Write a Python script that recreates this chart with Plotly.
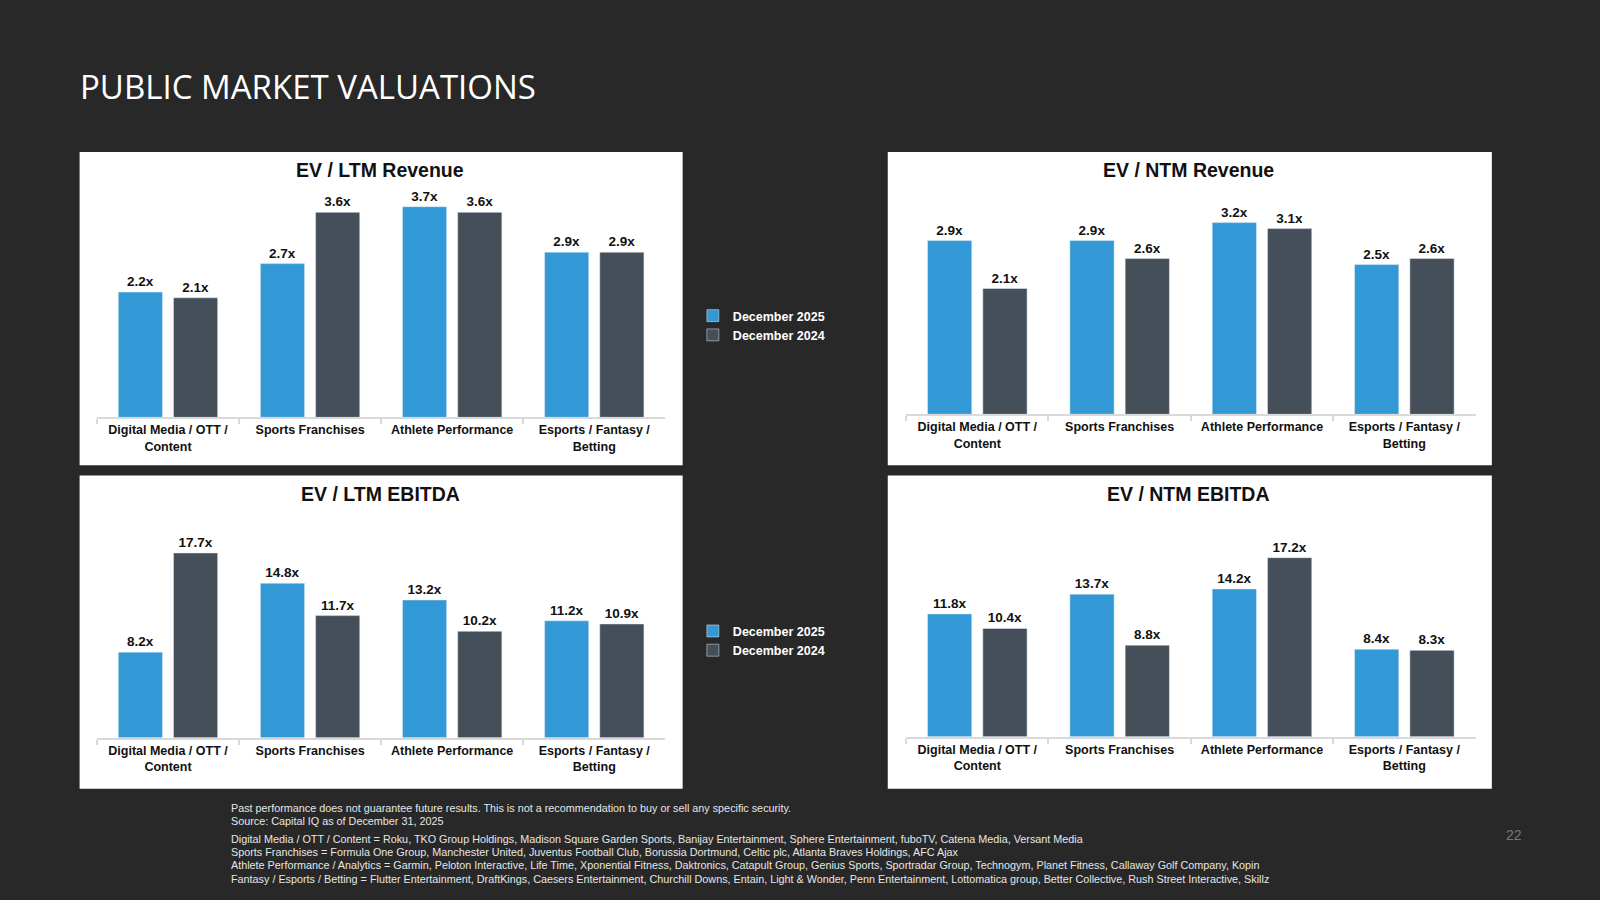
import plotly.graph_objects as go

# data
categories = ["Digital Media / OTT /<br>Content", "Sports Franchises",
              "Athlete Performance", "Esports / Fantasy /<br>Betting"]
series_names = ["December 2025", "December 2024"]

ltm_rev_2025 = [2.2, 2.7, 3.7, 2.9]
ltm_rev_2024 = [2.1, 3.6, 3.6, 2.9]
ntm_rev_2025 = [2.9, 2.9, 3.2, 2.5]
ntm_rev_2024 = [2.1, 2.6, 3.1, 2.6]
ltm_ebitda_2025 = [8.2, 14.8, 13.2, 11.2]
ltm_ebitda_2024 = [17.7, 11.7, 10.2, 10.9]
ntm_ebitda_2025 = [11.8, 13.7, 14.2, 8.4]
ntm_ebitda_2024 = [10.4, 8.8, 17.2, 8.3]

chart_titles = ["EV / LTM Revenue", "EV / NTM Revenue", "EV / LTM EBITDA", "EV / NTM EBITDA"]

footnotes = [
    "Past performance does not guarantee future results. This is not a recommendation to buy or sell any specific security.",
    "Source: Capital IQ as of December 31, 2025",
    "Digital Media / OTT / Content = Roku, TKO Group Holdings, Madison Square Garden Sports, Banijay Entertainment, Sphere Entertainment, fuboTV, Catena Media, Versant Media",
    "Sports Franchises = Formula One Group, Manchester United, Juventus Football Club, Borussia Dortmund, Celtic plc, Atlanta Braves Holdings, AFC Ajax",
    "Athlete Performance / Analytics = Garmin, Peloton Interactive, Life Time, Xponential Fitness, Daktronics, Catapult Group, Genius Sports, Sportradar Group, Technogym, Planet Fitness, Callaway Golf Company, Kopin",
    "Fantasy / Esports / Betting = Flutter Entertainment, DraftKings, Caesers Entertainment, Churchill Downs, Entain, Light & Wonder, Penn Entertainment, Lottomatica group, Better Collective, Rush Street Interactive, Skillz",
]

BLUE = "#3399d6"
GREY = "#454f59"
FONT = "Liberation Sans, Arial"
W, H = 1568.0, 882.0  # reference layout units


def px(x):
    return x / W


def py(y):
    return 1 - y / H


fig = go.Figure()

# panel layout: (box x0, x1, y0, y1), plot (x0, x1, top, base), px per unit
panels = [
    ((78, 669, 149, 456), (95, 652, 180, 409), 55.8, ltm_rev_2025, ltm_rev_2024),
    ((870, 1462, 149, 456), (888, 1446, 180, 406), 58.7, ntm_rev_2025, ntm_rev_2024),
    ((78, 669, 466, 773), (95, 652, 500, 723), 10.23, ltm_ebitda_2025, ltm_ebitda_2024),
    ((870, 1462, 466, 773), (888, 1446, 500, 722), 10.2, ntm_ebitda_2025, ntm_ebitda_2024),
]

for i, (box, plot, scale, v25, v24) in enumerate(panels):
    n = i + 1
    xa = "x" if n == 1 else f"x{n}"
    ya = "y" if n == 1 else f"y{n}"
    leg = "legend" if i < 2 else "legend2"
    first = i in (0, 2)
    for name, vals, col in [(series_names[0], v25, BLUE), (series_names[1], v24, GREY)]:
        fig.add_trace(go.Bar(
            x=categories, y=vals, name=name, marker_color=col,
            xaxis=xa, yaxis=ya, legend=leg, showlegend=first,
            texttemplate="%{y:.1f}x", textposition="outside", cliponaxis=False,
            textfont=dict(family=FONT, size=13.5, color="#111111", weight="bold"),
            hoverinfo="skip",
        ))
    bx0, bx1, by0, by1 = box
    fig.add_shape(type="rect", xref="paper", yref="paper",
                  x0=px(bx0), x1=px(bx1), y0=py(by1), y1=py(by0),
                  fillcolor="white", line_width=0, layer="below")
    fig.add_annotation(text=chart_titles[i], xref="paper", yref="paper",
                       x=px((bx0 + bx1) / 2 - 1), y=py(by0 + 18), showarrow=False,
                       xanchor="center", yanchor="middle",
                       font=dict(family=FONT, size=19.5, color="#111111", weight="bold"))
    x0, x1, top, base = plot
    ax_x = dict(domain=[px(x0), px(x1)], anchor=ya, showline=True, linecolor="#d9d9d9",
                linewidth=2, ticks="outside", tickson="boundaries", ticklen=5,
                tickcolor="#d9d9d9", tickwidth=2, showgrid=False, range=[-0.5, 3.5],
                tickfont=dict(family=FONT, size=12.5, color="#111111", weight="bold"),
                tickangle=0)
    ax_y = dict(domain=[py(base), py(top)], anchor=xa, range=[0, (base - top) / scale],
                visible=False, showgrid=False)
    fig.layout["xaxis" if n == 1 else f"xaxis{n}"] = ax_x
    fig.layout["yaxis" if n == 1 else f"yaxis{n}"] = ax_y

legend_style = dict(font=dict(family=FONT, size=12.5, color="white", weight="bold"),
                    bgcolor="rgba(0,0,0,0)", xanchor="left", yanchor="middle",
                    itemwidth=30, tracegroupgap=2)

fig.update_layout(
    width=1600, height=900,
    margin=dict(l=0, r=0, t=0, b=0),
    paper_bgcolor="#282828", plot_bgcolor="rgba(0,0,0,0)",
    barmode="group", bargap=0.223, bargroupgap=0.2,
    legend=dict(x=px(679), y=py(319), **legend_style),
    legend2=dict(x=px(679), y=py(628), **legend_style),
    showlegend=True,
)

fig.add_annotation(text="PUBLIC MARKET VALUATIONS", xref="paper", yref="paper",
                   x=px(76), y=py(85), showarrow=False, xanchor="left", yanchor="middle",
                   font=dict(family="Open Sans", size=33, color="white"))

foot_y = [792, 805, 822, 835, 848, 861]
for t, yy in zip(footnotes, foot_y):
    fig.add_annotation(text=t, xref="paper", yref="paper", x=px(224), y=py(yy),
                       showarrow=False, xanchor="left", yanchor="middle",
                       font=dict(family=FONT, size=10.8, color="#e6e6e6"))

fig.add_annotation(text="22", xref="paper", yref="paper", x=px(1484), y=py(818),
                   showarrow=False, xanchor="center", yanchor="middle",
                   font=dict(family=FONT, size=14, color="#777777"))

fig.write_html("out.html", config={"displayModeBar": False},
               post_script="document.body.style.margin='0';"
               "document.body.style.background='#282828';")
